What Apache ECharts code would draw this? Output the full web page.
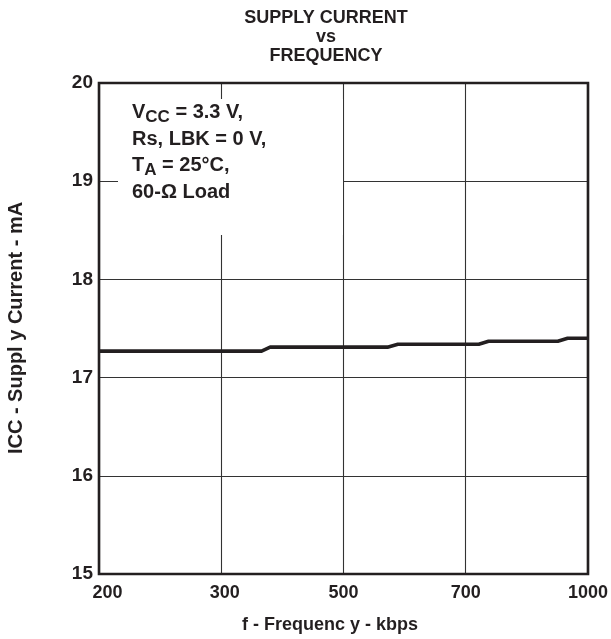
<!DOCTYPE html>
<html>
<head>
<meta charset="utf-8">
<script src="https://cdn.jsdelivr.net/npm/echarts@6/dist/echarts.min.js"></script>
<style>
html,body{margin:0;padding:0;background:#fff;}
#chart{width:611px;height:639px;}
</style>
</head>
<body>
<div id="chart"></div>
<script>
// ---- data ----
const xTickValues = [200, 300, 500, 700, 1000];
const xTickLabels = ['200', '300', '500', '700', '1000'];
const freqKbps = [200, 366, 380, 572, 589, 732, 756, 926, 950, 1000];
const iccMA    = [17.27, 17.27, 17.31, 17.31, 17.34, 17.34, 17.37, 17.37, 17.40, 17.40];
const yMin = 15, yMax = 20, yStep = 1;
const titleLines = ['SUPPLY CURRENT', 'vs', 'FREQUENCY'];
const xAxisTitle = 'f - Frequenc y - kbps';
const yAxisTitle = 'ICC - Suppl y Current - mA';

// frequency axis is drawn with equally spaced ticks: piecewise scale
function freqToAxis(f) {
  for (let i = 0; i < xTickValues.length - 1; i++) {
    const a = xTickValues[i], b = xTickValues[i + 1];
    if (f <= b || i === xTickValues.length - 2) return i + (f - a) / (b - a);
  }
  return 0;
}
const seriesData = freqKbps.map((f, i) => [freqToAxis(f), iccMA[i]]);

const FONT = '"Liberation Sans", Arial, Helvetica, sans-serif';
const INK = '#231f20';

const chart = echarts.init(document.getElementById('chart'), null, {renderer: 'canvas'});
chart.setOption({
  animation: false,
  backgroundColor: '#fff',
  grid: {left: 99, right: 19, top: 83, bottom: 65, show: true, borderColor: INK, borderWidth: 2.6, backgroundColor: 'transparent', z: 3},
  xAxis: {
    type: 'value', min: 0, max: xTickValues.length - 1, interval: 1,
    axisLine: {show: false}, axisTick: {show: false},
    splitLine: {show: true, lineStyle: {color: '#333', width: 1.1}},
    axisLabel: {
      margin: 10, color: INK, fontFamily: FONT, fontWeight: 'bold', fontSize: 18,
      formatter: v => {
        const i = Math.round(v);
        if (i === 0) return '{first|' + xTickLabels[i] + '}';
        if (i === 1) return '{second|' + xTickLabels[i] + '}';
        return xTickLabels[i];
      },
      rich: {
        first: {padding: [0, 0, 0, 17], fontFamily: FONT, fontWeight: 'bold', fontSize: 18, color: INK},
        second: {padding: [0, 0, 0, 7], fontFamily: FONT, fontWeight: 'bold', fontSize: 18, color: INK}
      }
    }
  },
  yAxis: {
    type: 'value', min: yMin, max: yMax, interval: yStep,
    axisLine: {show: false}, axisTick: {show: false},
    splitLine: {show: true, lineStyle: {color: '#333', width: 1.1}},
    axisLabel: {margin: 6, color: INK, fontFamily: FONT, fontWeight: 'bold', fontSize: 19}
  },
  series: [{
    type: 'line', data: seriesData, showSymbol: false, symbol: 'none',
    lineStyle: {color: INK, width: 3.6}, z: 5
  }],
  graphic: [
    {type: 'text', x: 326, y: 9, z: 100, style: {
      text: titleLines.join('\n'), align: 'center', verticalAlign: 'top',
      font: 'bold 18px ' + FONT, lineHeight: 19, fill: INK}},
    {type: 'text', x: 330, y: 625, z: 100, style: {
      text: xAxisTitle, align: 'center', verticalAlign: 'middle',
      font: 'bold 18px ' + FONT, fill: INK}},
    {type: 'text', x: 16, y: 328, rotation: Math.PI / 2, z: 100, style: {
      text: yAxisTitle, align: 'center', verticalAlign: 'middle',
      font: 'bold 20px ' + FONT, fill: INK}},
    {type: 'rect', z: 90, shape: {x: 118, y: 99, width: 225, height: 136}, style: {fill: '#fff'}},
    {type: 'text', x: 132, y: 99, z: 100, style: {
      text: '{m|V}{s|CC}{m| = 3.3 V,}\n{m|Rs, LBK = 0 V,}\n{m|T}{s|A}{m| = 25°C,}\n{m|60-Ω Load}',
      align: 'left', verticalAlign: 'top',
      rich: {
        m: {fontSize: 20, fontWeight: 'bold', fontFamily: FONT, fill: INK, lineHeight: 26.7},
        s: {fontSize: 17, fontWeight: 'bold', fontFamily: FONT, fill: INK, lineHeight: 14, verticalAlign: 'bottom'}
      }
    }}
  ]
});
</script>
</body>
</html>
